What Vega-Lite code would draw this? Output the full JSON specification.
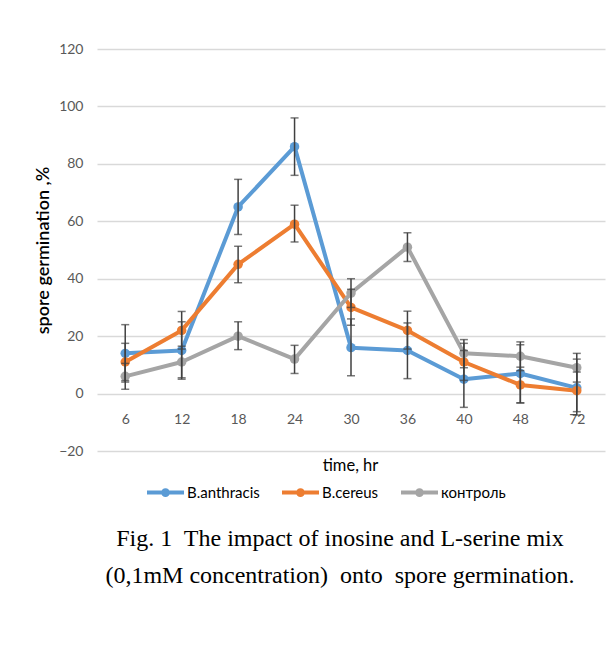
{
  "$schema": "https://vega.github.io/schema/vega-lite/v6.json",
  "width": 508,
  "height": 402,
  "autosize": "none",
  "padding": {"left": 97, "top": 49, "right": 8, "bottom": 209},
  "background": "white",
  "config": {
    "view": {"stroke": null},
    "font": "Lato",
    "axis": {"labelFont": "Lato", "titleFont": "Lato"}
  },
  "title": {
    "text": ["Fig. 1\u00a0 The impact of inosine and L-serine mix", "(0,1mM concentration)\u00a0 onto\u00a0 spore germination."],
    "orient": "bottom",
    "anchor": "middle",
    "font": "Liberation Serif",
    "fontSize": 24,
    "fontWeight": "normal",
    "color": "#000000",
    "lineHeight": 37,
    "offset": 24,
    "dx": -11
  },
  "data": {
    "values": [
      {"time": "6", "series": "B.anthracis", "value": 14, "lo": 4, "hi": 24},
      {"time": "12", "series": "B.anthracis", "value": 15, "lo": 5, "hi": 25},
      {"time": "18", "series": "B.anthracis", "value": 65, "lo": 55.4, "hi": 74.6},
      {"time": "24", "series": "B.anthracis", "value": 86, "lo": 76, "hi": 96},
      {"time": "30", "series": "B.anthracis", "value": 16, "lo": 6.2, "hi": 26},
      {"time": "36", "series": "B.anthracis", "value": 15, "lo": 5.2, "hi": 24.6},
      {"time": "40", "series": "B.anthracis", "value": 5, "lo": -4.8, "hi": 15},
      {"time": "48", "series": "B.anthracis", "value": 7, "lo": -3.3, "hi": 17},
      {"time": "72", "series": "B.anthracis", "value": 2, "lo": -7.5, "hi": 12},
      {"time": "6", "series": "B.cereus", "value": 11, "lo": 4.5, "hi": 17.5},
      {"time": "12", "series": "B.cereus", "value": 22, "lo": 15.5, "hi": 28.6},
      {"time": "18", "series": "B.cereus", "value": 45, "lo": 38.6, "hi": 51.3},
      {"time": "24", "series": "B.cereus", "value": 59, "lo": 52.8, "hi": 65.6},
      {"time": "30", "series": "B.cereus", "value": 30, "lo": 23.8, "hi": 36.3},
      {"time": "36", "series": "B.cereus", "value": 22, "lo": 15.5, "hi": 28.7},
      {"time": "40", "series": "B.cereus", "value": 11, "lo": 4.6, "hi": 17.5},
      {"time": "48", "series": "B.cereus", "value": 3, "lo": -3.2, "hi": 9.2},
      {"time": "72", "series": "B.cereus", "value": 1, "lo": -6.3, "hi": 7.5},
      {"time": "6", "series": "контроль", "value": 6, "lo": 1.5, "hi": 10.5},
      {"time": "12", "series": "контроль", "value": 11, "lo": 5.5, "hi": 16.5},
      {"time": "18", "series": "контроль", "value": 20, "lo": 15.3, "hi": 25},
      {"time": "24", "series": "контроль", "value": 12, "lo": 7, "hi": 16.8},
      {"time": "30", "series": "контроль", "value": 35, "lo": 30, "hi": 40},
      {"time": "36", "series": "контроль", "value": 51, "lo": 46, "hi": 56},
      {"time": "40", "series": "контроль", "value": 14, "lo": 9, "hi": 18.8},
      {"time": "48", "series": "контроль", "value": 13, "lo": 8, "hi": 18},
      {"time": "72", "series": "контроль", "value": 9, "lo": 4, "hi": 14}
    ]
  },
  "encoding": {
    "x": {
      "field": "time",
      "type": "ordinal",
      "sort": ["6", "12", "18", "24", "30", "36", "40", "48", "72"],
      "scale": {"type": "point", "padding": 0.5},
      "axis": {
        "title": "time, hr",
        "offset": -57,
        "domain": false,
        "ticks": false,
        "grid": false,
        "labelAngle": 0,
        "labelFontSize": 14,
        "labelColor": "#595959",
        "labelPadding": 18,
        "titleFontSize": 16.5,
        "titleFontWeight": "normal",
        "titleColor": "#000000",
        "titlePadding": 31,
        "titleX": 253
      }
    },
    "y": {
      "field": "value",
      "type": "quantitative",
      "scale": {"domain": [-20, 120], "nice": false, "zero": false},
      "axis": {
        "title": "spore germination ,%",
        "values": [-20, 0, 20, 40, 60, 80, 100, 120],
        "domain": false,
        "ticks": false,
        "grid": true,
        "gridColor": "#D9D9D9",
        "gridWidth": 1.3,
        "labelFontSize": 14,
        "labelColor": "#595959",
        "labelPadding": 14,
        "titleFontSize": 18,
        "titleFontWeight": 600,
        "titleColor": "#000000",
        "titlePadding": 6
      }
    }
  },
  "layer": [
    {
      "mark": {"type": "line", "strokeWidth": 4, "strokeJoin": "round"},
      "encoding": {
        "color": {
          "field": "series",
          "type": "nominal",
          "scale": {"domain": ["B.anthracis", "B.cereus", "контроль"], "range": ["#5B9BD5", "#ED7D31", "#A5A5A5"]},
          "legend": {
            "title": null,
            "orient": "none",
            "direction": "horizontal",
            "legendX": 48,
            "legendY": 423,
            "padding": 0,
            "symbolType": "M-1,0H1M0.13,0A0.13,0.13,0,1,1,-0.13,0A0.13,0.13,0,1,1,0.13,0",
            "symbolSize": 1369,
            "symbolStrokeWidth": 4,
            "labelFont": "Lato",
            "labelFontSize": 15,
            "labelColor": "#000000",
            "labelOffset": 1,
            "columnPadding": 14,
            "encode": {
              "symbols": {
                "update": {
                  "fill": {"scale": "color", "field": "value"},
                  "stroke": {"scale": "color", "field": "value"},
                  "opacity": {"value": 1}
                }
              }
            }
          }
        }
      }
    },
    {
      "mark": {"type": "point", "filled": true, "size": 90, "opacity": 1},
      "encoding": {
        "color": {"field": "series", "type": "nominal", "legend": null}
      }
    },
    {
      "mark": {"type": "rule", "color": "#404040", "strokeWidth": 1.5},
      "encoding": {
        "y": {"field": "lo", "type": "quantitative"},
        "y2": {"field": "hi"}
      }
    },
    {
      "mark": {"type": "tick", "color": "#404040", "size": 8, "thickness": 1.5, "orient": "horizontal"},
      "encoding": {
        "y": {"field": "lo", "type": "quantitative"}
      }
    },
    {
      "mark": {"type": "tick", "color": "#404040", "size": 8, "thickness": 1.5, "orient": "horizontal"},
      "encoding": {
        "y": {"field": "hi", "type": "quantitative"}
      }
    }
  ]
}
